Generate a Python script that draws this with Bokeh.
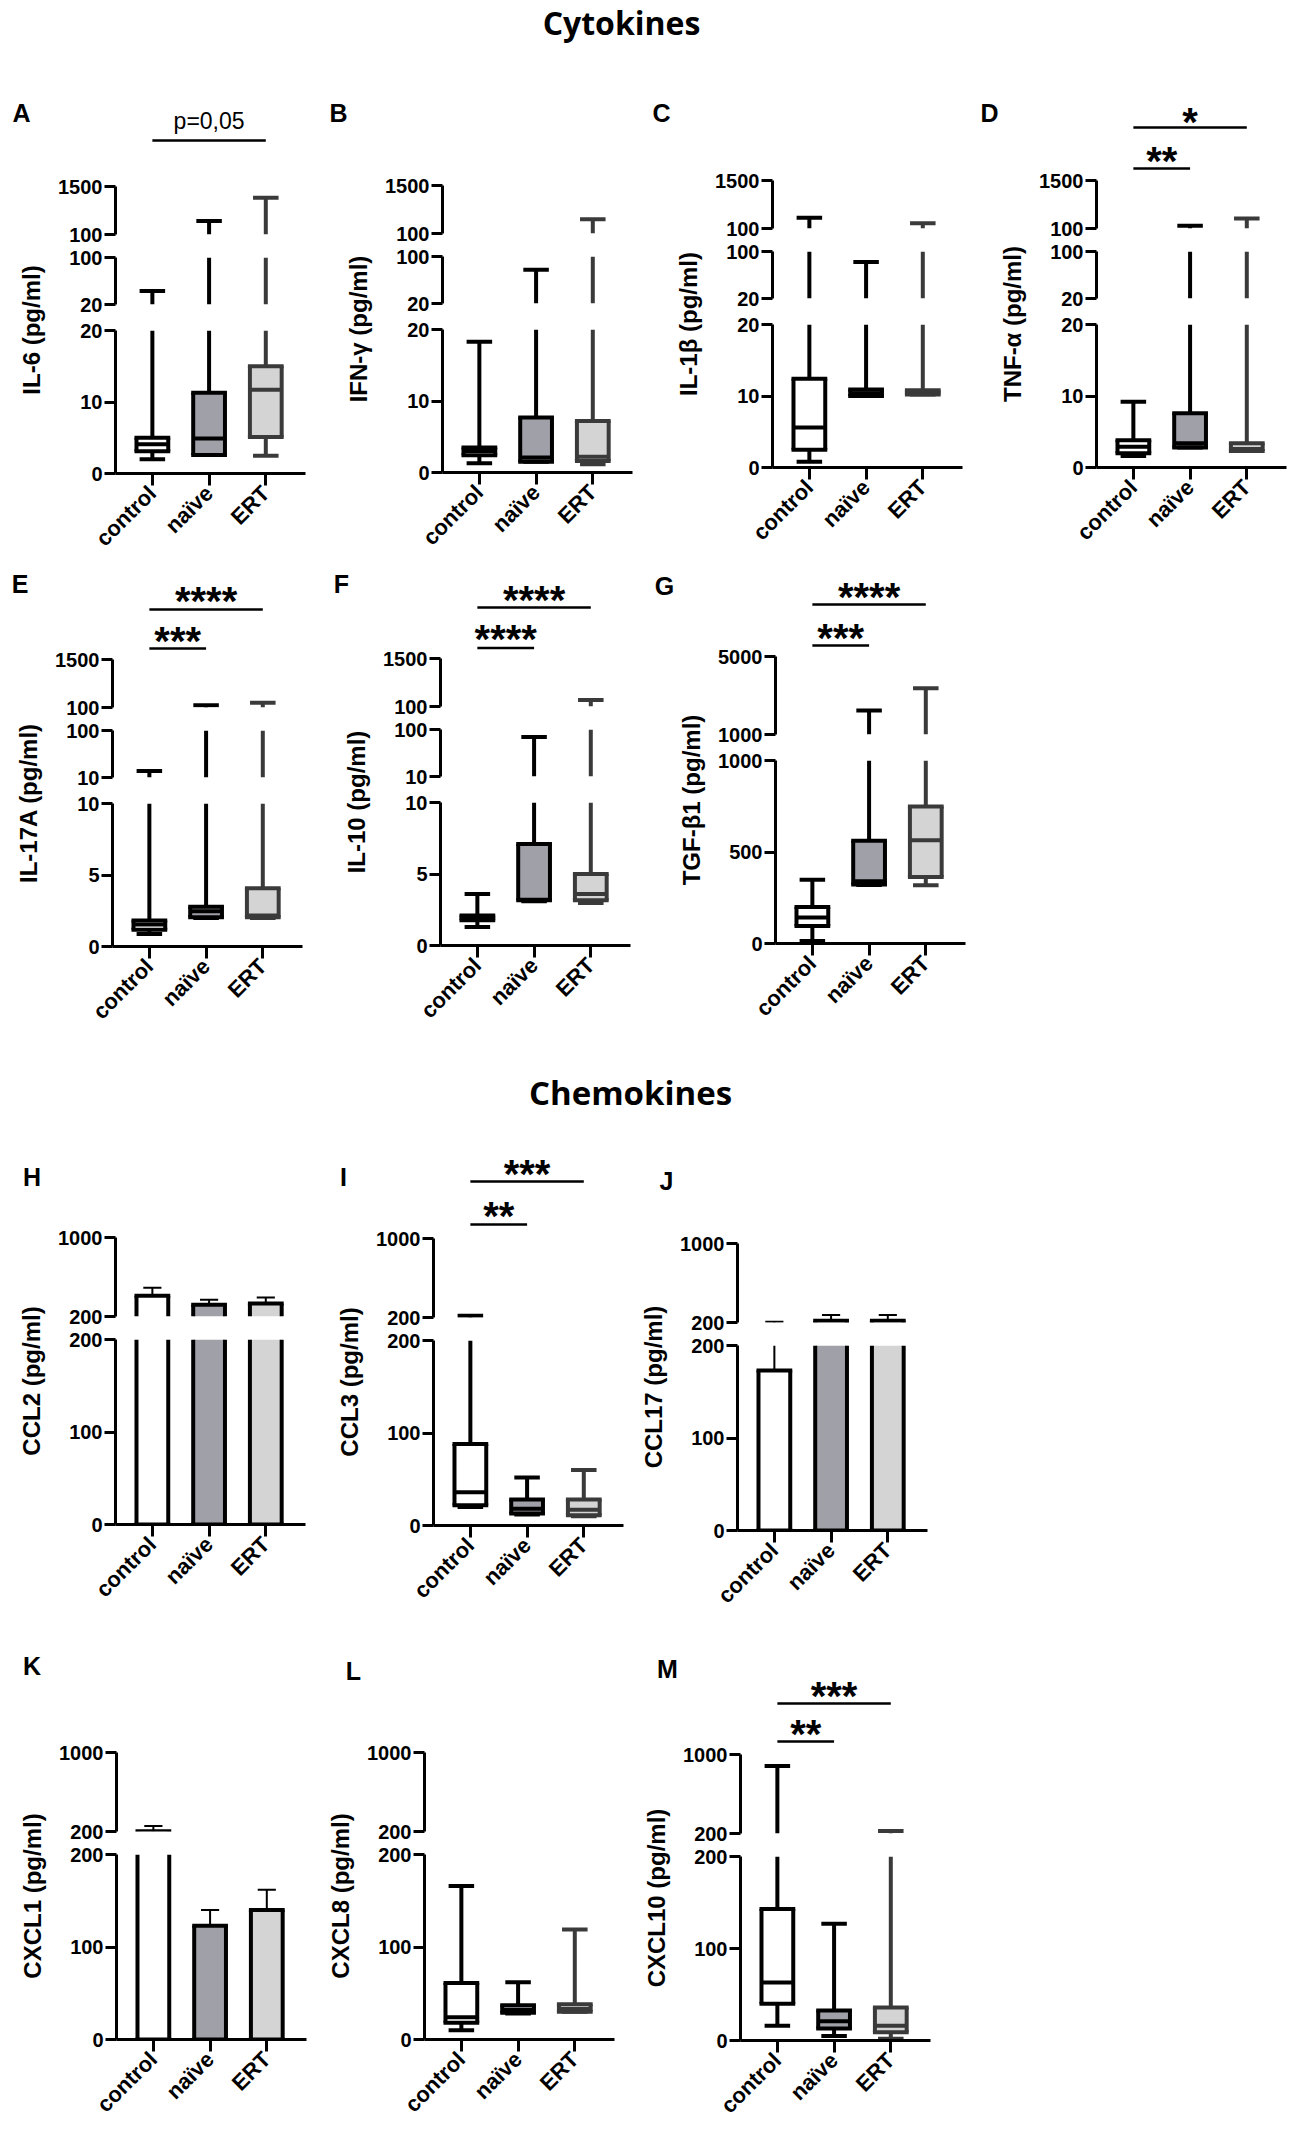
import math
from bokeh.plotting import figure
from bokeh.models import Range1d, LinearAxis, FixedTicker
from bokeh.layouts import row, column
from bokeh.embed import file_html
from bokeh.resources import INLINE
from bokeh.core.properties import value

# ---------------- data ----------------
categories = ["control", "naïve", "ERT"]
group_x = [1, 2, 3]

# box-plot statistics (pg/ml), order: control, naive, ERT
il6_min = [2.0, 2.6, 2.5]
il6_q1 = [3.1, 2.6, 5.1]
il6_med = [4.1, 4.9, 11.7]
il6_q3 = [5.0, 11.3, 15.0]
il6_max = [43, 494, 1171]

ifng_min = [1.3, 1.5, 1.15]
ifng_q1 = [2.4, 1.5, 1.6]
ifng_med = [3.0, 2.1, 2.2]
ifng_q3 = [3.5, 7.7, 7.2]
ifng_max = [18.3, 77.5, 516]

il1b_min = [0.8, 10.0, 10.2]
il1b_q1 = [2.5, 10.0, 10.2]
il1b_med = [5.6, 10.4, 10.5]
il1b_q3 = [12.4, 10.9, 10.8]
il1b_max = [412, 82, 256]

tnfa_min = [1.6, 2.8, 2.3]
tnfa_q1 = [2.0, 2.8, 2.3]
tnfa_med = [2.9, 3.4, 2.6]
tnfa_q3 = [3.8, 7.6, 3.4]
tnfa_max = [9.2, 183, 391]

il17a_min = [0.88, 2.0, 2.0]
il17a_q1 = [1.18, 2.04, 2.04]
il17a_med = [1.53, 2.46, 2.16]
il17a_q3 = [1.81, 2.78, 4.08]
il17a_max = [22.6, 167, 235]

il10_min = [1.3, 3.1, 2.98]
il10_q1 = [1.77, 3.16, 3.16]
il10_med = [1.93, 3.2, 3.6]
il10_q3 = [2.09, 7.1, 5.0]
il10_max = [3.6, 85.6, 293]

tgfb1_min = [13, 320, 318]
tgfb1_q1 = [95, 322, 364]
tgfb1_med = [142, 340, 564]
tgfb1_q3 = [200, 562, 749]
tgfb1_max = [349, 2231, 3376]

ccl3_min = [20, 12, 10]
ccl3_q1 = [22, 13, 11]
ccl3_med = [36, 18, 17]
ccl3_q3 = [88, 28, 28]
ccl3_max = [218, 52, 60]

cxcl8_min = [10, 28, 30]
cxcl8_q1 = [18, 29, 30]
cxcl8_med = [24, 32, 33]
cxcl8_q3 = [61, 37, 38]
cxcl8_max = [166, 62, 119]

cxcl10_min = [16, 5, 2]
cxcl10_q1 = [40, 13, 9]
cxcl10_med = [63, 21, 16]
cxcl10_q3 = [143, 32.5, 36]
cxcl10_max = [883, 127, 225]

# bar charts: mean and SEM (pg/ml)
ccl2_mean = [411, 318, 331]
ccl2_sem = [80, 52, 61]
ccl17_mean = [173, 217, 217]
ccl17_sem = [34, 60, 60]
cxcl1_mean = [202, 123, 140]
cxcl1_sem = [54, 17, 22]

# broken-axis segments (low, high, tick labels), top segment first
seg_cyto_top = (100, 1500, [100, 1500])
seg_cyto_mid20 = (20, 100, [20, 100])
seg_cyto_bot20 = (0, 20, [0, 10, 20])
seg_cyto_mid10 = (10, 100, [10, 100])
seg_cyto_bot10 = (0, 10, [0, 5, 10])
seg_tgf_top = (1000, 5000, [1000, 5000])
seg_tgf_bot = (0, 1000, [0, 500, 1000])
seg_chemo_top = (200, 1000, [200, 1000])
seg_chemo_bot = (0, 200, [0, 100, 200])

# ---------------- style ----------------
FILLS = ["#ffffff", "#a0a0a8", "#d4d4d4"]
BOX_EDGES = ["#000000", "#000000", "#3a3a3a"]
BAR_EDGES = ["#000000", "#000000", "#000000"]
BOXW = 0.56
CAPW = 0.45
ERRCAPW = 0.32
BL, FW, BR = 61, 190, 4
SEG_W = BL + FW + BR
X0, X1 = 0.35, 3.70
FONT = "Liberation Sans"
PAGE_W = 1296


def base_fig(w, h, xr, yr, bl=0, br=0, bt=0, bb=0):
    p = figure(width=int(w), height=int(h), x_range=xr, y_range=yr,
               x_axis_type=None, y_axis_type=None,
               output_backend="svg", toolbar_location=None,
               min_border_left=int(bl), min_border_right=int(br),
               min_border_top=int(bt), min_border_bottom=int(bb))
    p.outline_line_color = None
    p.background_fill_color = "white"
    p.border_fill_color = "white"
    return p


def txt(p, x, y, s, size, font=FONT, style="bold", angle=0.0):
    p.text(x=[x], y=[y], text=[s], text_font=value(font), text_font_size=size,
           text_font_style=style, text_align="center", text_baseline="middle",
           angle=angle, text_color="black")


def style_axis(ax):
    ax.axis_line_width = 3
    ax.axis_line_color = "black"
    ax.major_tick_line_width = 3
    ax.major_tick_line_color = "black"
    ax.major_tick_in = 0
    ax.minor_tick_in = 0
    ax.minor_tick_out = 0
    ax.major_label_text_font = FONT
    ax.major_label_text_font_style = "bold"
    ax.major_label_text_color = "black"


def inside(v, lo, hi):
    return lo <= v <= hi


def draw_segment_piece(p, st, kind, lo, hi):
    """Draw the part of each group's box / bar that falls inside [lo, hi]."""
    thick = dict(x0=[], y0=[], x1=[], y1=[], c=[])
    edge = dict(x0=[], y0=[], x1=[], y1=[], c=[])
    thin = dict(x0=[], y0=[], x1=[], y1=[], c=[])
    fill = dict(x=[], b=[], t=[], c=[])

    def add(d, x0, y0, x1, y1, c):
        d["x0"].append(x0); d["y0"].append(y0); d["x1"].append(x1); d["y1"].append(y1); d["c"].append(c)

    if kind == "box":
        mn, q1, md, q3, mx = st
        edges = BOX_EDGES
        for i, g in enumerate(group_x):
            c = edges[i]
            for a, b in ((q3[i], mx[i]), (mn[i], q1[i])):
                a2, b2 = max(a, lo), min(b, hi)
                if a2 < b2:
                    add(thick, g, a2, g, b2, c)
            for v in (mx[i], mn[i]):
                if inside(v, lo, hi):
                    add(thick, g - CAPW / 2, v, g + CAPW / 2, v, c)
        bottoms, tops, meds = q1, q3, md
    else:
        mean, sem = st
        edges = BAR_EDGES
        for i, g in enumerate(group_x):
            t = mean[i] + sem[i]
            a2, b2 = max(mean[i], lo), min(t, hi)
            if a2 < b2:
                add(thin, g, a2, g, b2, "black")
            if inside(t, lo, hi):
                add(thin, g - ERRCAPW / 2, t, g + ERRCAPW / 2, t, "black")
        bottoms, tops, meds = [0, 0, 0], mean, None

    for i, g in enumerate(group_x):
        c = edges[i]
        b2, t2 = max(bottoms[i], lo), min(tops[i], hi)
        if b2 < t2:
            fill["x"].append(g); fill["b"].append(b2); fill["t"].append(t2); fill["c"].append(FILLS[i])
            add(thick, g - BOXW / 2, b2, g - BOXW / 2, t2, c)
            add(thick, g + BOXW / 2, b2, g + BOXW / 2, t2, c)
        for v in (bottoms[i], tops[i]):
            if inside(v, lo, hi):
                add(edge, g - BOXW / 2, v, g + BOXW / 2, v, c)
        if meds is not None and inside(meds[i], lo, hi):
            add(thick, g - BOXW / 2, meds[i], g + BOXW / 2, meds[i], c)

    if thin["x0"]:
        p.segment(x0=thin["x0"], y0=thin["y0"], x1=thin["x1"], y1=thin["y1"],
                  line_color=thin["c"], line_width=2)
    if fill["x"]:
        p.vbar(x=fill["x"], width=BOXW, bottom=fill["b"], top=fill["t"],
               fill_color=fill["c"], line_color=None)
    if thick["x0"]:
        p.segment(x0=thick["x0"], y0=thick["y0"], x1=thick["x1"], y1=thick["y1"],
                  line_color=thick["c"], line_width=4)
    if edge["x0"]:
        p.segment(x0=edge["x0"], y0=edge["y0"], x1=edge["x1"], y1=edge["y1"],
                  line_color=edge["c"], line_width=4, line_cap="square")


def build_panel(P, panel_left, row_top, row_end):
    ax_x = P["axis_x"]
    wl = ax_x - BL - panel_left
    top = P["top_tick"]
    xr = Range1d(X0, X1)
    segs = P["segs"]
    hs = P["seg_h"]
    gaps = P["gaps"]
    zero = top + sum(hs) + sum(gaps)
    bb_last = row_end - zero
    n = len(segs)

    figs = []
    for k, (lo, hi, ticks) in enumerate(segs):
        bb = gaps[k] // 2 if k < n - 1 else bb_last
        if k == 0:
            # the frame of the top segment also holds the significance strip above it
            ext = top - row_top
            upp = (hi - lo) / hs[0]
            yr = Range1d(lo, hi + ext * upp)
            bt, fh = 0, ext + hs[0]
        else:
            yr = Range1d(lo, hi)
            bt, fh = gaps[k - 1] - gaps[k - 1] // 2, hs[k]
        p = base_fig(SEG_W, bt + fh + bb, xr, yr, bl=BL, br=BR, bt=bt, bb=bb)
        yax = LinearAxis(ticker=FixedTicker(ticks=ticks), bounds=(lo, hi))
        style_axis(yax)
        yax.major_tick_out = 11
        yax.major_label_standoff = 2
        yax.major_label_text_font_size = "20px"
        p.add_layout(yax, "left")
        if k == n - 1:
            xax = LinearAxis(ticker=FixedTicker(ticks=group_x),
                             major_label_overrides={g: c for g, c in zip(group_x, categories)})
            style_axis(xax)
            xax.major_tick_out = 12
            xax.major_label_standoff = 4
            xax.major_label_text_font_size = "22px"
            xax.major_label_orientation = math.pi / 4
            p.add_layout(xax, "below")
        draw_segment_piece(p, P["stats"], P["kind"], lo, hi)

        if k == 0:
            def ydat(py):
                return hi + (top - py) * upp

            for (s, i, j, ty, lny) in P.get("sig", []):
                p.segment(x0=[i], y0=[ydat(lny)], x1=[j], y1=[ydat(lny)],
                          line_color="black", line_width=2.5)
                if s.startswith("p"):
                    txt(p, (i + j) / 2, ydat(ty), s, "23px", style="normal")
                else:
                    txt(p, (i + j) / 2, ydat(ty + 9), s, "40px")
        figs.append(p)

    lab_h = row_end - row_top
    lab = base_fig(wl, lab_h, Range1d(0, wl), Range1d(lab_h, 0))
    txt(lab, ax_x - 84 - panel_left, (top + zero) / 2 - row_top, P["ylabel"],
        "24px", angle=math.pi / 2)
    lx, ly = P["letter_pos"]
    txt(lab, lx - panel_left, ly - row_top, P["letter"], "25px")
    return row(lab, column(*figs))


H3 = [48, 47, 143]
G3 = [23, 26]
H2 = [79, 185]
G2 = [23]

rows_spec = [
    (95, 568, [
        dict(letter="A", ylabel="IL-6 (pg/ml)", kind="box",
             stats=(il6_min, il6_q1, il6_med, il6_q3, il6_max),
             segs=[seg_cyto_top, seg_cyto_mid20, seg_cyto_bot20], seg_h=H3, gaps=G3,
             axis_x=115, top_tick=186, letter_pos=(21, 112),
             sig=[("p=0,05", 1, 3, 120, 140)]),
        dict(letter="B", ylabel="IFN-γ (pg/ml)", kind="box",
             stats=(ifng_min, ifng_q1, ifng_med, ifng_q3, ifng_max),
             segs=[seg_cyto_top, seg_cyto_mid20, seg_cyto_bot20], seg_h=H3, gaps=G3,
             axis_x=442, top_tick=185, letter_pos=(338, 112)),
        dict(letter="C", ylabel="IL-1β (pg/ml)", kind="box",
             stats=(il1b_min, il1b_q1, il1b_med, il1b_q3, il1b_max),
             segs=[seg_cyto_top, seg_cyto_mid20, seg_cyto_bot20], seg_h=H3, gaps=G3,
             axis_x=772, top_tick=180, letter_pos=(661, 112)),
        dict(letter="D", ylabel="TNF-α (pg/ml)", kind="box",
             stats=(tnfa_min, tnfa_q1, tnfa_med, tnfa_q3, tnfa_max),
             segs=[seg_cyto_top, seg_cyto_mid20, seg_cyto_bot20], seg_h=H3, gaps=G3,
             axis_x=1096, top_tick=180, letter_pos=(989, 112),
             sig=[("*", 1, 3, 112, 127), ("**", 1, 2, 151, 168)]),
    ]),
    (568, 1036, [
        dict(letter="E", ylabel="IL-17A (pg/ml)", kind="box",
             stats=(il17a_min, il17a_q1, il17a_med, il17a_q3, il17a_max),
             segs=[seg_cyto_top, seg_cyto_mid10, seg_cyto_bot10], seg_h=H3, gaps=G3,
             axis_x=112, top_tick=659, letter_pos=(19.5, 583.5),
             sig=[("****", 1, 3, 591, 609), ("***", 1, 2, 631, 648)]),
        dict(letter="F", ylabel="IL-10 (pg/ml)", kind="box",
             stats=(il10_min, il10_q1, il10_med, il10_q3, il10_max),
             segs=[seg_cyto_top, seg_cyto_mid10, seg_cyto_bot10], seg_h=H3, gaps=G3,
             axis_x=440, top_tick=658, letter_pos=(341, 583.5),
             sig=[("****", 1, 3, 590, 607), ("****", 1, 2, 629, 647.5)]),
        dict(letter="G", ylabel="TGF-β1 (pg/ml)", kind="box",
             stats=(tgfb1_min, tgfb1_q1, tgfb1_med, tgfb1_q3, tgfb1_max),
             segs=[seg_tgf_top, seg_tgf_bot], seg_h=[78, 183], gaps=[26],
             axis_x=775, top_tick=656, letter_pos=(664, 585),
             sig=[("****", 1, 3, 587, 604), ("***", 1, 2, 628, 645)]),
    ]),
    (1148, 1645, [
        dict(letter="H", ylabel="CCL2 (pg/ml)", kind="bar",
             stats=(ccl2_mean, ccl2_sem),
             segs=[seg_chemo_top, seg_chemo_bot], seg_h=H2, gaps=G2,
             axis_x=115, top_tick=1237, letter_pos=(31.5, 1176.5)),
        dict(letter="I", ylabel="CCL3 (pg/ml)", kind="box",
             stats=(ccl3_min, ccl3_q1, ccl3_med, ccl3_q3, ccl3_max),
             segs=[seg_chemo_top, seg_chemo_bot], seg_h=H2, gaps=G2,
             axis_x=433, top_tick=1238, letter_pos=(343, 1176.5),
             sig=[("***", 1, 3, 1164, 1181), ("**", 1, 2, 1206, 1224)]),
        dict(letter="J", ylabel="CCL17 (pg/ml)", kind="bar",
             stats=(ccl17_mean, ccl17_sem),
             segs=[seg_chemo_top, seg_chemo_bot], seg_h=H2, gaps=G2,
             axis_x=737, top_tick=1243, letter_pos=(666, 1180)),
    ]),
    (1645, 2129, [
        dict(letter="K", ylabel="CXCL1 (pg/ml)", kind="bar",
             stats=(cxcl1_mean, cxcl1_sem),
             segs=[seg_chemo_top, seg_chemo_bot], seg_h=H2, gaps=G2,
             axis_x=116, top_tick=1752, letter_pos=(31.5, 1665)),
        dict(letter="L", ylabel="CXCL8 (pg/ml)", kind="box",
             stats=(cxcl8_min, cxcl8_q1, cxcl8_med, cxcl8_q3, cxcl8_max),
             segs=[seg_chemo_top, seg_chemo_bot], seg_h=H2, gaps=G2,
             axis_x=424, top_tick=1752, letter_pos=(353, 1670)),
        dict(letter="M", ylabel="CXCL10 (pg/ml)", kind="box",
             stats=(cxcl10_min, cxcl10_q1, cxcl10_med, cxcl10_q3, cxcl10_max),
             segs=[seg_chemo_top, seg_chemo_bot], seg_h=H2, gaps=G2,
             axis_x=740, top_tick=1754, letter_pos=(667, 1668),
             sig=[("***", 1, 3, 1686, 1703), ("**", 1, 2, 1724, 1741)]),
    ]),
]


def build_row(row_top, row_end, panels):
    left = 0
    items = []
    for P in panels:
        items.append(build_panel(P, left, row_top, row_end))
        left = P["axis_x"] + FW + BR
    return row(*items)


def title_fig(text, top, bottom, cx, cy, size):
    h = bottom - top
    t = base_fig(PAGE_W, h, Range1d(0, PAGE_W), Range1d(h, 0))
    txt(t, cx, cy - top, text, size, font="Open Sans")
    return t


r1 = build_row(*rows_spec[0])
r2 = build_row(*rows_spec[1])
r3 = build_row(*rows_spec[2])
r4 = build_row(*rows_spec[3])

layout = column(
    title_fig("Cytokines", 0, 95, 621, 22, "32px"),
    r1, r2,
    title_fig("Chemokines", 1036, 1148, 630, 1092, "33px"),
    r3, r4,
)

open("out.html", "w").write(file_html(layout, INLINE))
